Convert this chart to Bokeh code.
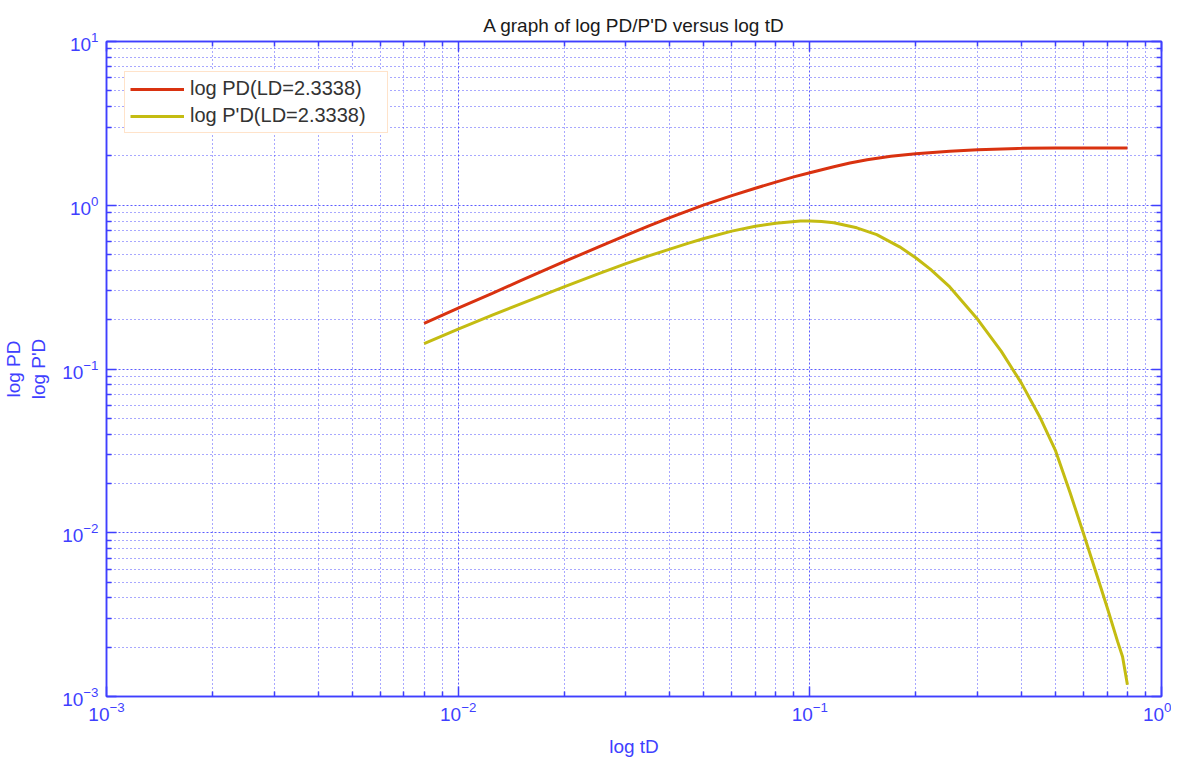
from bokeh.plotting import figure
from bokeh.models import LogAxis, FixedTicker
from bokeh.embed import file_html
from bokeh.resources import INLINE

# ---- data ----
td_pd = [0.008, 0.01, 0.0125, 0.015, 0.02, 0.025, 0.03, 0.035, 0.04, 0.045, 0.05,
         0.06, 0.07, 0.08, 0.09, 0.1, 0.117, 0.13, 0.1455, 0.17, 0.2, 0.25, 0.3, 0.4,
         0.5, 0.6, 0.8]
pd_vals = [0.19, 0.235, 0.29, 0.345, 0.452, 0.555, 0.655, 0.75, 0.84, 0.925, 1.005,
           1.145, 1.27, 1.385, 1.49, 1.58, 1.72, 1.81, 1.895, 1.99, 2.065, 2.14, 2.185,
           2.225, 2.235, 2.24, 2.24]

td_dpd = [0.008, 0.01, 0.0125, 0.015, 0.02, 0.025, 0.03, 0.035, 0.04, 0.045, 0.05,
          0.06, 0.07, 0.08, 0.094, 0.1, 0.108, 0.117, 0.136, 0.155, 0.18, 0.2, 0.22,
          0.25, 0.3, 0.35, 0.4, 0.45, 0.5, 0.55, 0.6, 0.65, 0.7, 0.75, 0.775, 0.8]
dpd_vals = [0.143, 0.175, 0.213, 0.249, 0.317, 0.381, 0.44, 0.492, 0.54, 0.585, 0.626,
            0.695, 0.745, 0.777, 0.80, 0.802, 0.797, 0.782, 0.728, 0.662, 0.557, 0.478,
            0.407, 0.317, 0.201, 0.1285, 0.0817, 0.0513, 0.0316, 0.0175, 0.0099,
            0.0058, 0.00352, 0.00217, 0.00175, 0.00118]

x_major = [0.001, 0.01, 0.1, 1]
x_minor = [m * 10.0 ** e for e in (-3, -2, -1) for m in range(2, 10)]
y_major = [0.001, 0.01, 0.1, 1, 10]
y_minor = [m * 10.0 ** e for e in (-3, -2, -1, 0) for m in range(2, 10)]

title_text = "A graph of log PD/P'D versus log tD"
x_label = "log tD"
y_label = "log PD\nlog P'D"
label_pd = "log PD(LD=2.3338)"
label_dpd = "log P'D(LD=2.3338)"

BLUE = "#3f3fff"
FONT = "Liberation Sans"

p = figure(frame_width=1055, frame_height=655, x_axis_type="log", y_axis_type="log",
           x_range=(1e-3, 1), y_range=(1e-3, 10),
           output_backend="svg", toolbar_location=None, title=title_text,
           min_border_left=98, min_border_right=10, min_border_top=41,
           min_border_bottom=40)

p.title.text_font = FONT
p.title.text_font_size = "19px"
p.title.text_font_style = "normal"
p.title.text_color = "#1a1a1a"
p.title.align = "center"
p.title.offset = 0
p.title.standoff = 12

p.outline_line_color = BLUE
p.outline_line_width = 1.5

xt = FixedTicker(ticks=x_major, minor_ticks=x_minor)
yt = FixedTicker(ticks=y_major, minor_ticks=y_minor)

bottom = p.below[0]
left = p.left[0]
top = LogAxis()
right = LogAxis()
p.add_layout(top, "above")
p.add_layout(right, "right")

for ax in [bottom, top]:
    ax.ticker = xt
for ax in [left, right]:
    ax.ticker = yt

for ax in [bottom, left, top, right]:
    ax.axis_line_color = BLUE
    ax.axis_line_width = 1.5
    ax.major_tick_line_color = BLUE
    ax.minor_tick_line_color = BLUE
    ax.major_tick_line_width = 1.5
    ax.minor_tick_line_width = 1.5
    ax.major_tick_in = 10
    ax.major_tick_out = 0
    ax.minor_tick_in = 5
    ax.minor_tick_out = 0
    ax.major_label_text_color = BLUE
    ax.major_label_text_font = FONT
    ax.major_label_text_font_size = "19px"
    ax.axis_label_text_color = BLUE
    ax.axis_label_text_font = FONT
    ax.axis_label_text_font_size = "19px"
    ax.axis_label_text_font_style = "normal"

for ax in [top, right]:
    ax.major_label_text_font_size = "1px"
    ax.major_label_text_alpha = 0
    ax.major_label_standoff = 0

bottom.axis_label = x_label
left.axis_label = y_label
bottom.major_label_standoff = 5
left.major_label_standoff = 8
bottom.axis_label_standoff = 12
left.axis_label_standoff = 10

p.xgrid.ticker = xt
p.ygrid.ticker = yt
for g in [p.xgrid, p.ygrid]:
    g.grid_line_color = BLUE
    g.grid_line_alpha = 0.85
    g.grid_line_dash = "2 2"
    g.minor_grid_line_color = BLUE
    g.minor_grid_line_alpha = 0.9
    g.minor_grid_line_dash = "1 3"

p.line(td_pd, pd_vals, color="#d93210", line_width=3, legend_label=label_pd)
p.line(td_dpd, dpd_vals, color="#c4bc12", line_width=3, legend_label=label_dpd)

lg = p.legend[0]
lg.location = (18, 563)
lg.border_line_color = "#ffc896"
lg.border_line_width = 1.5
lg.background_fill_color = "white"
lg.background_fill_alpha = 1
lg.label_text_font = FONT
lg.label_text_font_size = "20px"
lg.label_text_color = "#333333"
lg.glyph_width = 54
lg.glyph_height = 22
lg.label_height = 22
lg.label_width = 192
lg.spacing = 4
lg.padding = 5
lg.margin = 0
lg.label_standoff = 6

open("out.html", "w").write(file_html(p, INLINE))
